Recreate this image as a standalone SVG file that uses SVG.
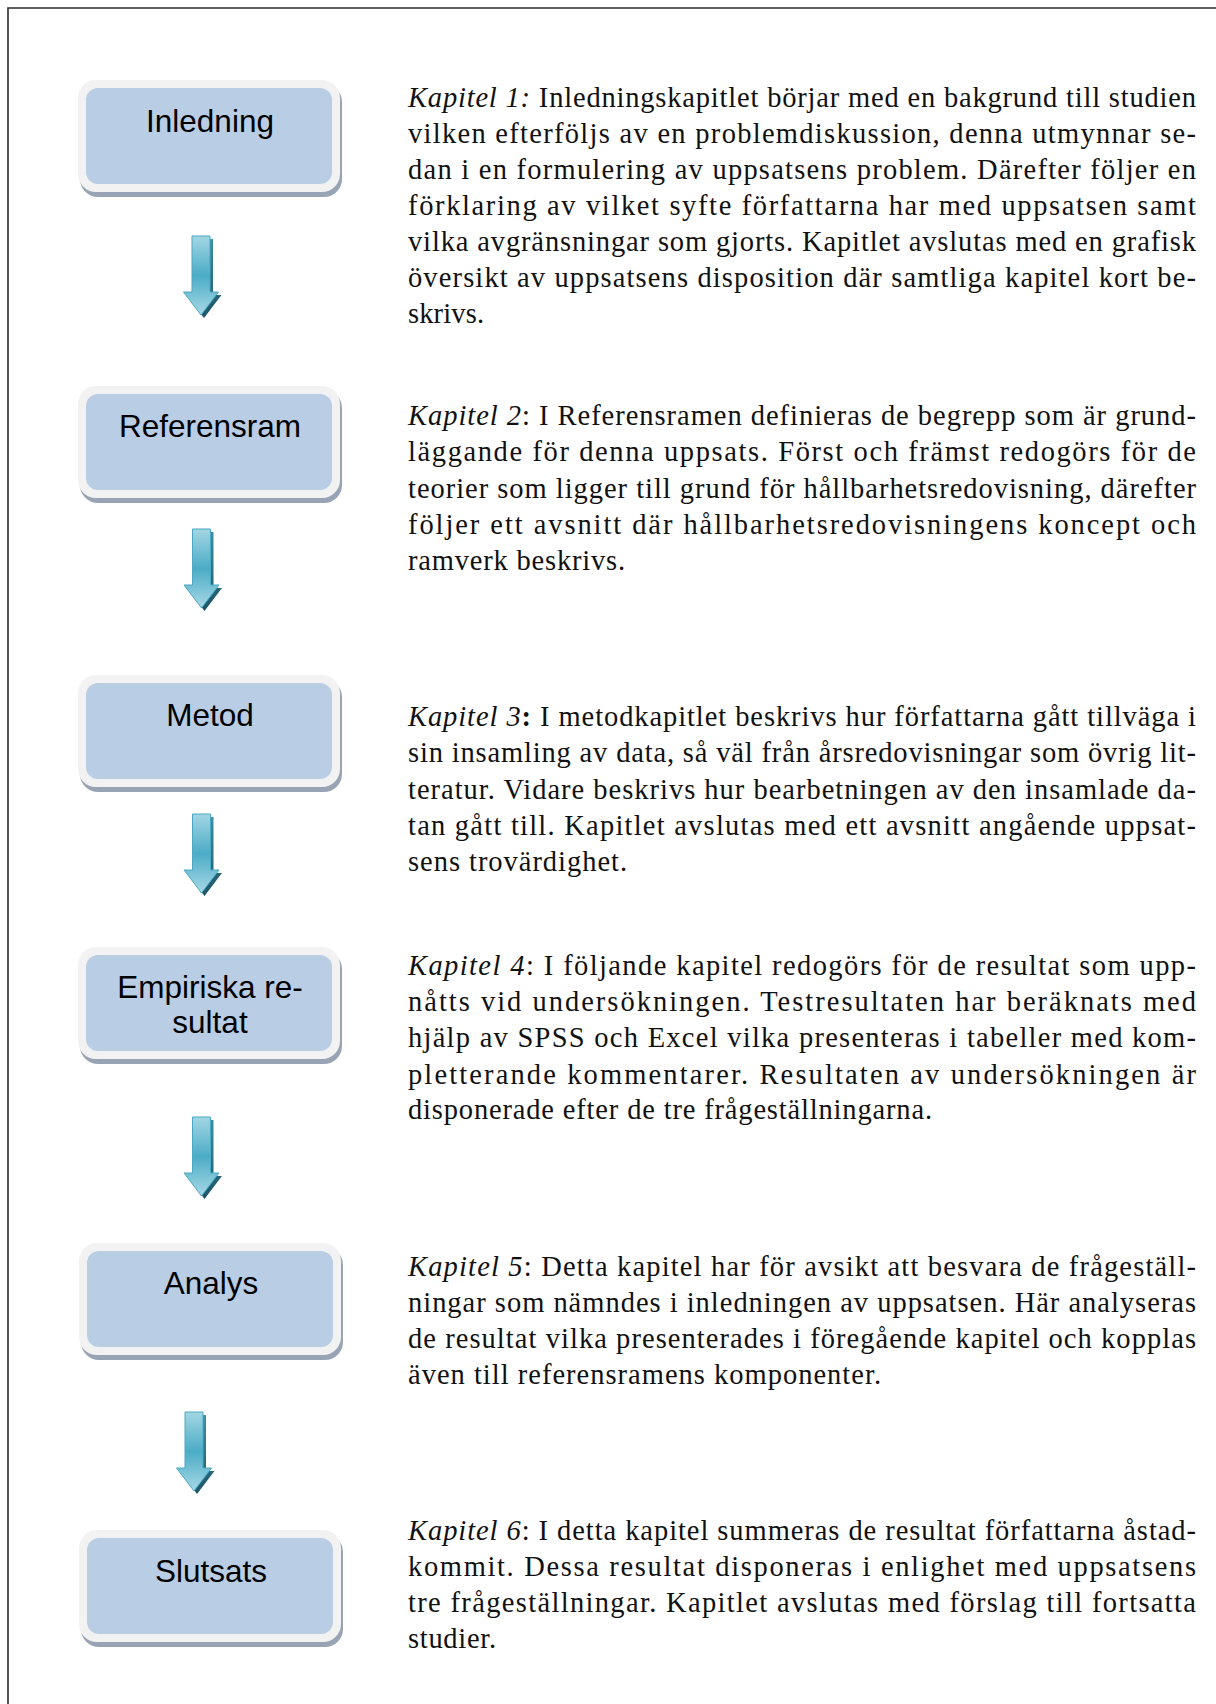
<svg xmlns="http://www.w3.org/2000/svg" width="1216" height="1704" viewBox="0 0 1216 1704">
<style>
.frame{fill:none;stroke:#2a2a2a;stroke-width:1.6}
.bshadow{fill:#98a4b6}
.bouter{fill:#f2f2f2}
.binner{fill:#b9cde5}
.blabel{font-family:"Liberation Sans",Arial,sans-serif;font-size:31.5px;fill:#000;text-anchor:middle}
.para{font-family:"Liberation Serif","Times New Roman",serif;font-size:28.5px;fill:#111}
.it{font-style:italic}
.bd{font-weight:bold}
.ashadow{fill:url(#gShadow)}
.abody{fill:url(#gArrow);stroke:#4aa8c2;stroke-width:1}
</style>
<defs>
<linearGradient id="gArrow" x1="0" y1="0" x2="0" y2="1">
<stop offset="0" stop-color="#a3d6e4"/>
<stop offset="0.5" stop-color="#4bacc6"/>
<stop offset="1" stop-color="#a8d8e6"/>
</linearGradient>
<linearGradient id="gShadow" x1="0" y1="0" x2="0" y2="1">
<stop offset="0" stop-color="#3d8ea4"/>
<stop offset="1" stop-color="#1d5566"/>
</linearGradient>
<path id="arrowShape" d="M -9,0 H 9 V 56 H 17.5 L 0,79 L -17.5,56 H -9 Z"/>
<g id="arrow">
<use href="#arrowShape" class="ashadow" transform="translate(3,3)"/>
<use href="#arrowShape" class="abody"/>
</g>
<g id="box">
<rect class="bshadow" x="2" y="4" width="262" height="113" rx="18"/>
<rect class="bouter" x="0" y="0" width="262" height="112" rx="18"/>
<rect class="binner" x="8" y="8" width="246" height="96" rx="12"/>
</g>
</defs>
<rect width="1216" height="1704" fill="#fff"/>
<path class="frame" d="M 8,1704 V 8 H 1216"/>

<g id="connectors">
<use href="#arrow" transform="translate(201,236)"/>
<use href="#arrow" transform="translate(201.5,529)"/>
<use href="#arrow" transform="translate(201.5,814)"/>
<use href="#arrow" transform="translate(201.5,1117)"/>
<use href="#arrow" transform="translate(194,1412)"/>
</g>

<g id="node-inledning">
<use href="#box" transform="translate(78,80)"/>
<text class="blabel" x="210" y="132">Inledning</text>
</g>
<g id="node-referensram">
<use href="#box" transform="translate(78,386)"/>
<text class="blabel" x="210" y="437">Referensram</text>
</g>
<g id="node-metod">
<use href="#box" transform="translate(78,675)"/>
<text class="blabel" x="210" y="726">Metod</text>
</g>
<g id="node-empiriska">
<use href="#box" transform="translate(78,947)"/>
<text class="blabel" x="210" y="998">Empiriska re-</text>
<text class="blabel" x="210" y="1033">sultat</text>
</g>
<g id="node-analys">
<use href="#box" transform="translate(79,1243)"/>
<text class="blabel" x="211" y="1294">Analys</text>
</g>
<g id="node-slutsats">
<use href="#box" transform="translate(79,1530)"/>
<text class="blabel" x="211" y="1582">Slutsats</text>
</g>

<g id="text-kapitel1" class="para">
<text x="408" y="107" textLength="788" lengthAdjust="spacing"><tspan class="it">Kapitel 1:</tspan> Inledningskapitlet börjar med en bakgrund till studien</text>
<text x="408" y="143" textLength="788" lengthAdjust="spacing">vilken efterföljs av en problemdiskussion, denna utmynnar se-</text>
<text x="408" y="179" textLength="788" lengthAdjust="spacing">dan i en formulering av uppsatsens problem. Därefter följer en</text>
<text x="408" y="215" textLength="788" lengthAdjust="spacing">förklaring av vilket syfte författarna har med uppsatsen samt</text>
<text x="408" y="251" textLength="788" lengthAdjust="spacing">vilka avgränsningar som gjorts. Kapitlet avslutas med en grafisk</text>
<text x="408" y="287" textLength="788" lengthAdjust="spacing">översikt av uppsatsens disposition där samtliga kapitel kort be-</text>
<text x="408" y="323" textLength="76" lengthAdjust="spacing">skrivs.</text>
</g>

<g id="text-kapitel2" class="para">
<text x="408" y="425" textLength="788" lengthAdjust="spacing"><tspan class="it">Kapitel 2</tspan>: I Referensramen definieras de begrepp som är grund-</text>
<text x="408" y="461" textLength="788" lengthAdjust="spacing">läggande för denna uppsats. Först och främst redogörs för de</text>
<text x="408" y="498" textLength="788" lengthAdjust="spacing">teorier som ligger till grund för hållbarhetsredovisning, därefter</text>
<text x="408" y="534" textLength="788" lengthAdjust="spacing">följer ett avsnitt där hållbarhetsredovisningens koncept och</text>
<text x="408" y="570" textLength="217" lengthAdjust="spacing">ramverk beskrivs.</text>
</g>

<g id="text-kapitel3" class="para">
<text x="408" y="726" textLength="788" lengthAdjust="spacing"><tspan class="it">Kapitel 3</tspan><tspan class="bd">:</tspan> I metodkapitlet beskrivs hur författarna gått tillväga i</text>
<text x="408" y="762" textLength="788" lengthAdjust="spacing">sin insamling av data, så väl från årsredovisningar som övrig lit-</text>
<text x="408" y="799" textLength="788" lengthAdjust="spacing">teratur. Vidare beskrivs hur bearbetningen av den insamlade da-</text>
<text x="408" y="835" textLength="788" lengthAdjust="spacing">tan gått till. Kapitlet avslutas med ett avsnitt angående uppsat-</text>
<text x="408" y="871" textLength="219" lengthAdjust="spacing">sens trovärdighet.</text>
</g>

<g id="text-kapitel4" class="para">
<text x="408" y="975" textLength="788" lengthAdjust="spacing"><tspan class="it">Kapitel 4</tspan>: I följande kapitel redogörs för de resultat som upp-</text>
<text x="408" y="1011" textLength="788" lengthAdjust="spacing">nåtts vid undersökningen. Testresultaten har beräknats med</text>
<text x="408" y="1047" textLength="788" lengthAdjust="spacing">hjälp av SPSS och Excel vilka presenteras i tabeller med kom-</text>
<text x="408" y="1084" textLength="788" lengthAdjust="spacing">pletterande kommentarer. Resultaten av undersökningen är</text>
<text x="408" y="1119" textLength="524" lengthAdjust="spacing">disponerade efter de tre frågeställningarna.</text>
</g>

<g id="text-kapitel5" class="para">
<text x="408" y="1276" textLength="788" lengthAdjust="spacing"><tspan class="it">Kapitel 5</tspan>: Detta kapitel har för avsikt att besvara de frågeställ-</text>
<text x="408" y="1312" textLength="788" lengthAdjust="spacing">ningar som nämndes i inledningen av uppsatsen. Här analyseras</text>
<text x="408" y="1348" textLength="788" lengthAdjust="spacing">de resultat vilka presenterades i föregående kapitel och kopplas</text>
<text x="408" y="1384" textLength="473" lengthAdjust="spacing">även till referensramens komponenter.</text>
</g>

<g id="text-kapitel6" class="para">
<text x="408" y="1540" textLength="788" lengthAdjust="spacing"><tspan class="it">Kapitel 6</tspan>: I detta kapitel summeras de resultat författarna åstad-</text>
<text x="408" y="1576" textLength="788" lengthAdjust="spacing">kommit. Dessa resultat disponeras i enlighet med uppsatsens</text>
<text x="408" y="1612" textLength="788" lengthAdjust="spacing">tre frågeställningar. Kapitlet avslutas med förslag till fortsatta</text>
<text x="408" y="1648" textLength="88" lengthAdjust="spacing">studier.</text>
</g>
</svg>
